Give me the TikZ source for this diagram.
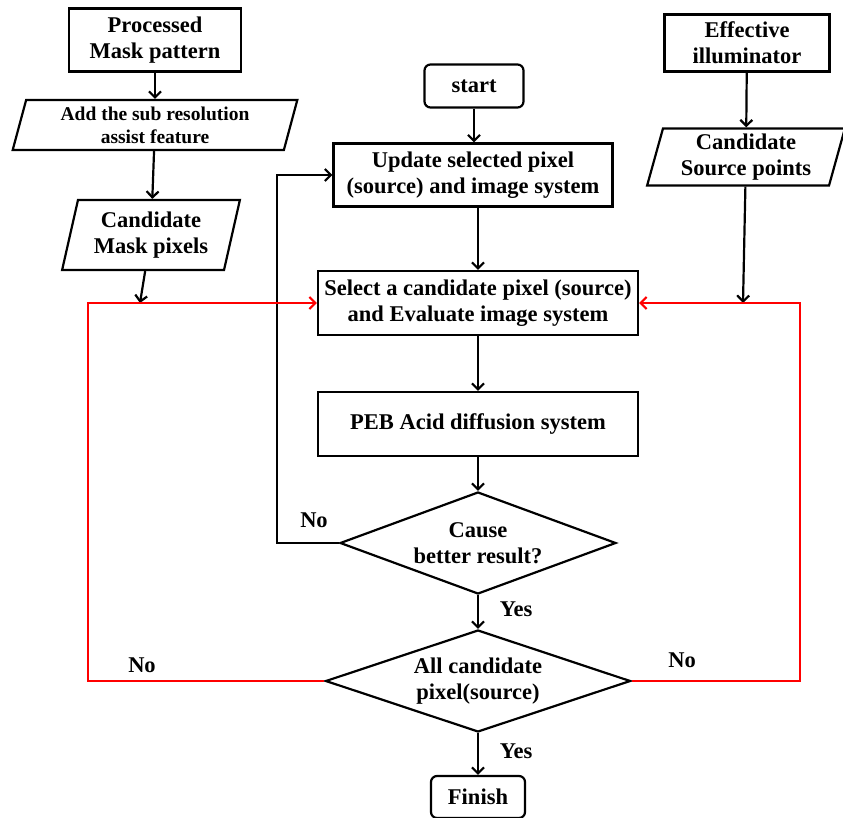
\documentclass[tikz,border=0pt]{standalone}
\usepackage{fontspec}
\setmainfont{Liberation Serif}
\usetikzlibrary{shapes.geometric,arrows.meta}
\tikzset{
  >={Straight Barb[length=6pt,width=12pt]},
  line/.style={line width=2.2pt},
  box/.style={draw,line width=2.2pt,align=center,inner sep=0pt,
    font=\bfseries\fontsize{22.5}{26}\selectfont},
  rbox/.style={box,rounded corners=6pt},
  para/.style={box,trapezium,trapezium left angle=75,trapezium right angle=105,
    trapezium stretches=true},
  choice/.style={box,diamond,aspect=2.7},
  lbl/.style={font=\bfseries\fontsize{22.5}{26}\selectfont},
  back/.style={->,line width=2.2pt,red}
}
\begin{document}
\begin{tikzpicture}[x=1pt,y=-1pt]
\useasboundingbox (0,0) rectangle (843,818);
% left column
\node [box,minimum width=172pt,minimum height=63pt] (mask) at (155,40) {Processed\\Mask pattern};
\node [para,minimum width=285pt,minimum height=50pt,font=\bfseries\fontsize{19.5}{23}\selectfont] (sraf) at (155,125) {Add the sub resolution\\assist feature};
\node [para,minimum width=178pt,minimum height=70pt] (maskpix) at (151,235) {Candidate\\Mask pixels};
% right column
\node [box,minimum width=165pt,minimum height=57pt] (illum) at (747,43) {Effective\\illuminator};
\node [para,minimum width=198pt,minimum height=57pt] (srcpts) at (746,157) {Candidate\\Source points};
% main column
\node [rbox,minimum width=99pt,minimum height=43pt] (start) at (474,86) {start};
\node [box,minimum width=279pt,minimum height=63pt] (update) at (473,175) {Update selected pixel\\(source) and image system};
\node [box,minimum width=320pt,minimum height=64pt] (select) at (478,303) {Select a candidate pixel (source)\\and Evaluate image system};
\node [box,minimum width=320pt,minimum height=64pt] (peb) at (478,424) {PEB Acid diffusion system};
\node [choice,minimum width=276pt,minimum height=102pt] (cause) at (478,543) {Cause\\better result?};
\node [choice,minimum width=305pt,minimum height=102pt] (allcand) at (478,681) {All candidate\\pixel(source)};
\node [rbox,minimum width=94pt,minimum height=42pt] (finish) at (478,797) {Finish};
% joints
\coordinate (mj) at (140,303);
\coordinate (sj) at (743,303);
\coordinate (lc) at (88,303);
\coordinate (rc) at (800,303);
\coordinate (fb) at (277,360);
% labels
\node [lbl] (no1) at (314,520) {No};
\node [lbl] (no2) at (142,665) {No};
\node [lbl] (no3) at (682,660) {No};
\node [lbl] (yes1) at (516,609) {Yes};
\node [lbl] (yes2) at (516,751) {Yes};
% arrows
\draw [->,line] (mask) -- (sraf);
\draw [->,line] (sraf) -- (maskpix);
\draw [->,line] (maskpix) -- (mj);
\draw [->,line] (illum) -- (srcpts);
\draw [->,line] (srcpts) -- (sj);
\draw [->,line] (start) -- (update.north -| start);
\draw [->,line] (update.south -| select.north) -- (select.north);
\draw [->,line] (select) -- (peb);
\draw [->,line] (peb) -- (cause);
\draw [->,line] (cause) -- (allcand);
\draw [->,line] (allcand) -- (finish);
\draw [->,line] (cause.west) -| (fb) |- (update.west);
\draw [back] (allcand.west) -| (lc) -- (select.west);
\draw [back] (allcand.east) -| (rc) -- (select.east);
\end{tikzpicture}
\end{document}
